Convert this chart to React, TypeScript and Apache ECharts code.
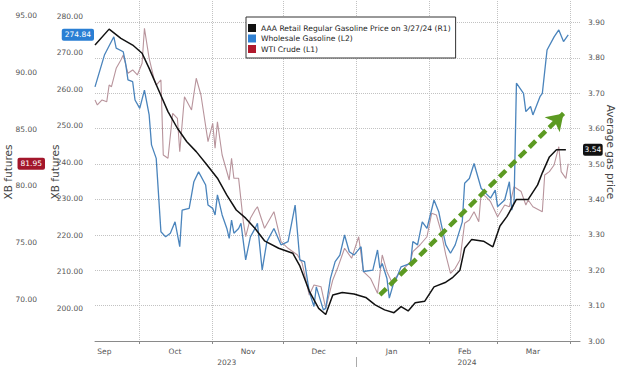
import React, { useEffect, useRef } from 'react';
import * as echarts from 'echarts';

const FONT = 'DejaVu Sans';

// x range (daily categories)
const startDate = '2023-09-12';
const endDate = '2024-04-05';
const monthNames = ['Jan', 'Feb', 'Mar', 'Apr', 'May', 'Jun', 'Jul', 'Aug', 'Sep', 'Oct', 'Nov', 'Dec'];
const yearLabelDates = ['2023-11-07', '2024-02-17'];
const yearSeparatorDates = ['2024-01-01'];

// tick labels
const xbTickValues = [200, 210, 220, 230, 240, 250, 260, 270, 280];
const wtiTickValues = [70, 75, 80, 85, 90, 95];

// series names
const retailName = 'AAA Retail Regular Gasoline Price on 3/27/24 (R1)';
const wholesaleName = 'Wholesale Gasoline (L2)';
const wtiName = 'WTI Crude (L1)';

// AAA retail regular gasoline ($/gal, right axis)
const retailGas: [string, number][] = [
  ['2023-09-12', 3.836], ['2023-09-18', 3.881], ['2023-09-23', 3.855], ['2023-09-28', 3.836],
  ['2023-10-02', 3.813], ['2023-10-05', 3.770], ['2023-10-09', 3.709], ['2023-10-13', 3.648],
  ['2023-10-17', 3.601], ['2023-10-21', 3.563], ['2023-10-25', 3.535], ['2023-10-29', 3.502],
  ['2023-11-03', 3.460], ['2023-11-07', 3.412], ['2023-11-11', 3.370], ['2023-11-15', 3.347],
  ['2023-11-19', 3.318], ['2023-11-23', 3.283], ['2023-11-29', 3.262], ['2023-12-05', 3.248],
  ['2023-12-08', 3.212], ['2023-12-12', 3.141], ['2023-12-16', 3.092], ['2023-12-19', 3.075],
  ['2023-12-22', 3.130], ['2023-12-26', 3.137], ['2023-12-31', 3.133], ['2024-01-05', 3.123],
  ['2024-01-09', 3.102], ['2024-01-13', 3.088], ['2024-01-17', 3.080], ['2024-01-20', 3.097],
  ['2024-01-23', 3.085], ['2024-01-26', 3.108], ['2024-01-30', 3.112], ['2024-02-03', 3.153],
  ['2024-02-08', 3.166], ['2024-02-11', 3.180], ['2024-02-14', 3.200], ['2024-02-16', 3.262],
  ['2024-02-19', 3.287], ['2024-02-24', 3.282], ['2024-02-28', 3.266], ['2024-03-02', 3.325],
  ['2024-03-05', 3.352], ['2024-03-09', 3.400], ['2024-03-14', 3.400], ['2024-03-18', 3.441],
  ['2024-03-20', 3.475], ['2024-03-23', 3.520], ['2024-03-26', 3.540], ['2024-03-30', 3.540],
];

// Wholesale gasoline (XB futures, L2)
const wholesaleGas: [string, number][] = [
  ['2023-09-12', 260.6], ['2023-09-16', 269.3], ['2023-09-20', 274.3], ['2023-09-21', 271.2],
  ['2023-09-24', 270.2], ['2023-09-25', 267.0], ['2023-09-26', 262.5], ['2023-09-28', 262.0],
  ['2023-09-29', 257.0], ['2023-10-01', 254.7], ['2023-10-03', 259.7], ['2023-10-05', 252.9],
  ['2023-10-06', 244.7], ['2023-10-08', 241.0], ['2023-10-10', 220.9], ['2023-10-12', 219.5],
  ['2023-10-14', 220.5], ['2023-10-16', 223.6], ['2023-10-18', 216.8], ['2023-10-19', 226.8],
  ['2023-10-22', 227.3], ['2023-10-24', 234.6], ['2023-10-26', 237.3], ['2023-10-29', 233.7],
  ['2023-10-30', 228.2], ['2023-11-01', 227.3], ['2023-11-02', 225.5], ['2023-11-03', 231.0],
  ['2023-11-05', 225.5], ['2023-11-07', 221.8], ['2023-11-08', 219.1], ['2023-11-09', 224.1],
  ['2023-11-10', 220.5], ['2023-11-12', 221.8], ['2023-11-13', 223.2], ['2023-11-15', 213.2],
  ['2023-11-17', 219.5], ['2023-11-19', 221.8], ['2023-11-20', 223.2], ['2023-11-22', 210.4],
  ['2023-11-24', 218.2], ['2023-11-27', 221.8], ['2023-11-30', 217.3], ['2023-12-03', 218.2],
  ['2023-12-06', 228.2], ['2023-12-08', 213.2], ['2023-12-10', 212.7], ['2023-12-12', 204.5],
  ['2023-12-14', 200.4], ['2023-12-15', 205.8], ['2023-12-18', 199.5], ['2023-12-19', 199.9],
  ['2023-12-21', 208.1], ['2023-12-23', 212.7], ['2023-12-25', 214.5], ['2023-12-27', 220.0],
  ['2023-12-29', 215.4], ['2023-12-31', 214.5], ['2024-01-03', 216.8], ['2024-01-04', 210.0],
  ['2024-01-08', 210.4], ['2024-01-10', 215.9], ['2024-01-11', 210.9], ['2024-01-12', 212.2],
  ['2024-01-14', 208.1], ['2024-01-15', 202.7], ['2024-01-17', 207.2], ['2024-01-18', 208.1],
  ['2024-01-20', 211.3], ['2024-01-24', 212.2], ['2024-01-25', 218.2], ['2024-01-27', 217.3],
  ['2024-01-29', 223.6], ['2024-01-31', 221.8], ['2024-02-03', 229.6], ['2024-02-05', 226.4],
  ['2024-02-06', 223.2], ['2024-02-08', 217.3], ['2024-02-10', 215.0], ['2024-02-12', 217.3],
  ['2024-02-15', 223.6], ['2024-02-16', 234.2], ['2024-02-18', 235.5], ['2024-02-20', 239.6],
  ['2024-02-23', 232.8], ['2024-02-25', 231.4], ['2024-02-27', 230.1], ['2024-02-29', 232.3],
  ['2024-03-01', 227.8], ['2024-03-04', 229.6], ['2024-03-06', 234.6], ['2024-03-07', 226.8],
  ['2024-03-08', 229.1], ['2024-03-09', 261.6], ['2024-03-12', 258.8], ['2024-03-13', 253.8],
  ['2024-03-15', 255.2], ['2024-03-16', 252.9], ['2024-03-19', 257.9], ['2024-03-20', 258.8],
  ['2024-03-22', 270.7], ['2024-03-25', 274.3], ['2024-03-27', 276.2], ['2024-03-29', 273.0],
  ['2024-03-31', 274.84],
];

// WTI crude (L1)
const wtiCrude: [string, number][] = [
  ['2023-09-12', 87.58], ['2023-09-13', 87.14], ['2023-09-15', 87.58], ['2023-09-17', 87.43],
  ['2023-09-18', 88.90], ['2023-09-19', 88.75], ['2023-09-21', 90.38], ['2023-09-23', 91.11],
  ['2023-09-24', 91.55], ['2023-09-26', 89.94], ['2023-09-28', 90.23], ['2023-09-30', 89.79],
  ['2023-10-02', 90.82], ['2023-10-03', 93.91], ['2023-10-05', 91.26], ['2023-10-07', 89.50],
  ['2023-10-08', 88.90], ['2023-10-10', 89.35], ['2023-10-11', 82.72], ['2023-10-13', 82.43],
  ['2023-10-15', 86.40], ['2023-10-17', 85.96], ['2023-10-18', 83.01], ['2023-10-20', 87.87],
  ['2023-10-23', 86.70], ['2023-10-25', 89.50], ['2023-10-27', 88.02], ['2023-10-30', 83.90],
  ['2023-11-01', 85.52], ['2023-11-02', 83.31], ['2023-11-03', 85.66], ['2023-11-05', 82.72],
  ['2023-11-08', 80.51], ['2023-11-09', 82.43], ['2023-11-10', 80.66], ['2023-11-12', 80.66],
  ['2023-11-14', 76.83], ['2023-11-15', 75.50], ['2023-11-17', 77.13], ['2023-11-19', 77.86],
  ['2023-11-20', 78.15], ['2023-11-23', 76.25], ['2023-11-27', 77.71], ['2023-11-30', 75.06],
  ['2023-12-03', 74.48], ['2023-12-07', 73.89], ['2023-12-09', 73.15], ['2023-12-12', 70.35],
  ['2023-12-14', 71.24], ['2023-12-17', 71.09], ['2023-12-19', 69.18], ['2023-12-22', 71.68],
  ['2023-12-24', 72.71], ['2023-12-27', 74.48], ['2023-12-30', 73.60], ['2024-01-02', 75.50],
  ['2024-01-04', 72.41], ['2024-01-07', 71.83], ['2024-01-10', 70.50], ['2024-01-12', 73.89],
  ['2024-01-14', 72.41], ['2024-01-16', 71.53], ['2024-01-20', 72.41], ['2024-01-24', 73.30],
  ['2024-01-25', 74.18], ['2024-01-28', 74.77], ['2024-01-31', 75.50], ['2024-02-02', 77.57],
  ['2024-02-04', 77.42], ['2024-02-06', 75.95], ['2024-02-08', 73.89], ['2024-02-10', 72.27],
  ['2024-02-12', 72.71], ['2024-02-14', 73.45], ['2024-02-16', 76.69], ['2024-02-18', 76.98],
  ['2024-02-20', 77.71], ['2024-02-22', 76.83], ['2024-02-23', 79.34], ['2024-02-25', 79.04],
  ['2024-02-27', 78.60], ['2024-03-01', 77.27], ['2024-03-04', 78.30], ['2024-03-06', 78.15],
  ['2024-03-08', 79.92], ['2024-03-11', 79.49], ['2024-03-13', 78.30], ['2024-03-14', 78.75],
  ['2024-03-16', 78.15], ['2024-03-20', 77.71], ['2024-03-21', 80.95], ['2024-03-23', 81.25],
  ['2024-03-25', 81.84], ['2024-03-27', 83.45], ['2024-03-28', 81.25], ['2024-03-30', 80.66],
  ['2024-03-31', 81.95],
];

// last-value tags
const lastRetail = 3.54;
const lastWholesale = 274.84;
const lastWti = 81.95;

// trend arrow (on the L2 scale)
const trendStart: [string, number] = ['2024-01-11', 203.6];
const trendEnd: [string, number] = ['2024-03-29', 253.3];

function buildDays(start: string, end: string): string[] {
  const out: string[] = [];
  const d = new Date(start + 'T00:00:00Z');
  const e = new Date(end + 'T00:00:00Z');
  while (d.getTime() <= e.getTime()) {
    out.push(d.toISOString().slice(0, 10));
    d.setUTCDate(d.getUTCDate() + 1);
  }
  return out;
}

export default function App() {
  const ref = useRef<HTMLDivElement>(null);

  useEffect(() => {
    document.body.style.margin = '0';
    if (!ref.current) return;
    const chart = echarts.init(ref.current, undefined, { renderer: 'svg' });

    const days = buildDays(startDate, endDate);
    const idx = (d: string) => days.indexOf(d);
    const toXY = (arr: [string, number][]) => arr.map(([d, v]) => [idx(d), v]);
    const isMonthStart = (_i: number, v: string) => v.slice(8) === '01';

    const labelStyle = { color: '#555', fontSize: 7.5, fontFamily: FONT };
    const nameStyle = { color: '#444', fontSize: 10.5, fontFamily: FONT };
    const tag = (bg: string, text: string, margin: number, padX: number) => ({
      show: true,
      type: 'none',
      status: 'show',
      triggerTooltip: false,
      label: {
        show: true,
        formatter: () => text,
        backgroundColor: bg,
        color: '#fff',
        fontSize: 7.5,
        fontFamily: FONT,
        padding: [2, padX, 2, padX],
        borderRadius: 2,
        margin,
      },
    });

    const option: any = {
      animation: false,
      backgroundColor: '#fff',
      textStyle: { fontFamily: FONT },
      axisPointer: { triggerOn: 'none' },
      grid: { left: 95, right: 40, top: -13, bottom: 27, containLabel: false, outerBoundsMode: 'none' },
      legend: {
        orient: 'vertical',
        left: 246,
        top: 17,
        itemWidth: 8,
        itemHeight: 8,
        itemGap: 2.5,
        padding: [7, 5, 5, 2],
        backgroundColor: '#fff',
        borderColor: '#333',
        borderWidth: 1,
        borderRadius: 0,
        icon: 'rect',
        selectedMode: false,
        textStyle: { fontSize: 7.6, color: '#222', fontFamily: FONT },
        data: [
          { name: retailName, itemStyle: { color: '#111', borderWidth: 0 } },
          { name: wholesaleName, itemStyle: { color: '#2f80d2', borderWidth: 0 } },
          { name: wtiName, itemStyle: { color: '#b0182c', borderWidth: 0 } },
        ],
      },
      xAxis: [
        {
          type: 'category',
          data: days,
          boundaryGap: false,
          position: 'bottom',
          axisLine: { show: true, lineStyle: { color: '#8a8a8a', width: 1 } },
          axisTick: { show: true, interval: isMonthStart, length: 3, lineStyle: { color: '#8a8a8a' } },
          axisLabel: {
            ...labelStyle,
            interval: (_i: number, v: string) => v.slice(8) === '16',
            formatter: (v: string) => monthNames[Number(v.slice(5, 7)) - 1],
            margin: 6,
          },
          splitLine: { show: true, interval: isMonthStart, lineStyle: { color: '#c2c2c2', type: 'dotted', width: 1 } },
        },
        {
          type: 'category',
          data: days,
          boundaryGap: false,
          position: 'bottom',
          offset: 16,
          axisLine: { show: false },
          axisTick: {
            show: true,
            interval: (_i: number, v: string) => yearSeparatorDates.includes(v),
            length: 10,
            lineStyle: { color: '#aaa' },
          },
          axisLabel: {
            ...labelStyle,
            interval: (_i: number, v: string) => yearLabelDates.includes(v),
            formatter: (v: string) => v.slice(0, 4),
            margin: 1,
          },
          splitLine: { show: false },
        },
      ],
      yAxis: [
        {
          type: 'value',
          position: 'right',
          min: 3,
          max: 4,
          interval: 0.1,
          axisLine: { show: false },
          axisTick: { show: false },
          axisLabel: { ...labelStyle, formatter: (v: number) => v.toFixed(2), margin: 8, showMaxLabel: false },
          splitLine: { show: true, lineStyle: { color: '#c2c2c2', type: 'dotted', width: 1 } },
          name: 'Average gas price',
          nameLocation: 'middle',
          nameRotate: -90,
          nameGap: 25,
          nameMoveOverlap: false,
          nameTextStyle: { ...nameStyle, padding: [0, 24, 0, 0] },
          axisPointer: { ...tag('#111', lastRetail.toFixed(2), 3, 1.5), value: lastRetail },
        },
        {
          type: 'value',
          position: 'left',
          min: 190.96,
          max: 287.95,
          axisLine: { show: false },
          axisTick: { show: false },
          axisLabel: { ...labelStyle, customValues: xbTickValues, formatter: (v: number) => v.toFixed(2), margin: 12 },
          splitLine: { show: false },
          name: 'XB futures',
          nameLocation: 'middle',
          nameRotate: 90,
          nameGap: 35,
          nameMoveOverlap: false,
          nameTextStyle: { ...nameStyle, padding: [0, 16, 0, 0] },
          axisPointer: { ...tag('#2a7fd4', lastWholesale.toFixed(2), 1, 3), value: lastWholesale },
        },
        {
          type: 'value',
          position: 'left',
          offset: 46,
          min: 66.29,
          max: 97.56,
          axisLine: { show: false },
          axisTick: { show: false },
          axisLabel: { ...labelStyle, customValues: wtiTickValues, formatter: (v: number) => v.toFixed(2), margin: 12 },
          splitLine: { show: false },
          name: 'XB futures',
          nameLocation: 'middle',
          nameRotate: 90,
          nameGap: 36,
          nameMoveOverlap: false,
          nameTextStyle: { ...nameStyle, padding: [0, 16, 0, 0] },
          axisPointer: { ...tag('#a3162b', lastWti.toFixed(2), 4, 3), value: lastWti },
        },
      ],
      series: [
        {
          name: wtiName,
          type: 'line',
          xAxisIndex: 0,
          yAxisIndex: 2,
          data: toXY(wtiCrude),
          showSymbol: false,
          symbol: 'none',
          lineStyle: { color: '#b8949c', width: 1.1 },
          itemStyle: { color: '#b8949c' },
          z: 2,
        },
        {
          name: wholesaleName,
          type: 'line',
          xAxisIndex: 0,
          yAxisIndex: 1,
          data: toXY(wholesaleGas),
          showSymbol: false,
          symbol: 'none',
          lineStyle: { color: '#4a84bc', width: 1.3 },
          itemStyle: { color: '#4a84bc' },
          z: 3,
          markLine: {
            silent: true,
            symbol: ['none', 'arrow'],
            symbolSize: 16,
            label: { show: false },
            lineStyle: { color: '#5c9a22', width: 4.5, type: [9, 5] },
            emphasis: { disabled: true },
            data: [[
              { coord: [idx(trendStart[0]), trendStart[1]] },
              { coord: [idx(trendEnd[0]), trendEnd[1]] },
            ]],
          },
        },
        {
          name: retailName,
          type: 'line',
          xAxisIndex: 0,
          yAxisIndex: 0,
          data: toXY(retailGas),
          showSymbol: false,
          symbol: 'none',
          lineStyle: { color: '#111', width: 1.5 },
          itemStyle: { color: '#111' },
          z: 4,
        },
      ],
    };

    chart.setOption(option);
    return () => chart.dispose();
  }, []);

  return <div ref={ref} style={{ width: 620, height: 368 }} />;
}
